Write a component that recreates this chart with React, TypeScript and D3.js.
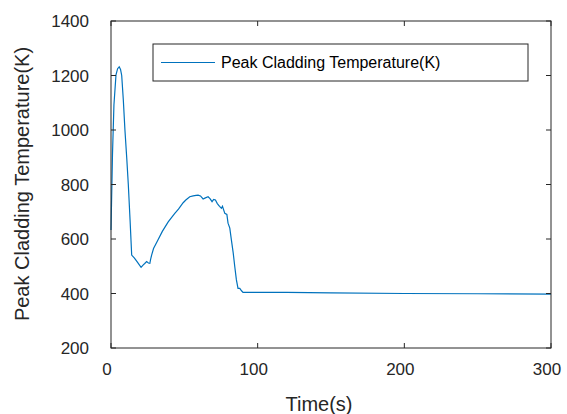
import React from "react";
import * as d3 from "d3";

// time (s) and peak cladding temperature (K)
const timeS = [
  0, 1, 2, 3.4, 4.5, 5.6, 6.5, 7.3, 8.4, 9.5, 10.7, 11.8, 13, 14.1,
  16, 18, 20.5, 22, 23, 24.3, 25.5, 26.5, 27, 27.7, 29, 32, 35, 39, 43.5,
  46, 49.2, 51, 53.7, 56, 58, 59.4, 61, 62.8, 64, 66.2, 67.5, 68.9, 70,
  71.2, 72.5, 74, 75.3, 76, 77.6, 79, 79.8, 81, 82.1, 83.3, 84.4, 85.5,
  86.6, 87.8, 89, 90, 95, 100, 120, 150, 200, 250, 300,
];
const tempK = [
  633, 908, 1092, 1202, 1225, 1232, 1222, 1200, 1110, 1000, 900, 800, 670, 541,
  530, 515, 496, 505, 510, 517, 512, 511, 525, 541, 565, 596, 628, 663, 694,
  710, 733, 743, 755, 758, 760, 761, 758, 747, 750, 755, 748, 737, 745,
  743, 730, 720, 713, 720, 694, 690, 658, 640, 596, 550, 498, 450,
  419, 419, 410, 404, 404, 404, 404, 402, 400, 399, 398,
];
const xTicks = [0, 100, 200, 300];
const yTicks = [200, 400, 600, 800, 1000, 1200, 1400];
const seriesName = "Peak Cladding Temperature(K)";
const xTitle = "Time(s)";
const yTitle = "Peak Cladding Temperature(K)";

const W = 567;
const H = 414;
const left = 111, right = 551, top = 21, bottom = 348;
const axisColor = "#262626";
const lineColor = "#0072BD";
const font = "Arial, 'Liberation Sans', Helvetica, sans-serif";

export default function App() {
  const x = d3.scaleLinear().domain([0, 300]).range([left, right]);
  const y = d3.scaleLinear().domain([200, 1400]).range([bottom, top]);
  const pts: [number, number][] = timeS.map((t, i) => [t, tempK[i]]);
  const line = d3
    .line<[number, number]>()
    .x(d => x(d[0]))
    .y(d => y(d[1]));
  const tick = 5;

  return (
    <svg
      width={W}
      height={H}
      style={{ position: "absolute", left: 0, top: 0, background: "#fff" }}
      fontFamily={font}
    >
      <rect x={0} y={0} width={W} height={H} fill="#fff" />
      <path d={line(pts) || ""} fill="none" stroke={lineColor} strokeWidth={1.2} />

      {/* box */}
      <rect
        x={left}
        y={top}
        width={right - left}
        height={bottom - top}
        fill="none"
        stroke={axisColor}
        strokeWidth={1}
      />
      {xTicks.map(t => (
        <g key={"x" + t}>
          <line x1={x(t)} x2={x(t)} y1={bottom} y2={bottom - tick} stroke={axisColor} />
          <line x1={x(t)} x2={x(t)} y1={top} y2={top + tick} stroke={axisColor} />
          <text x={x(t) - 4} y={375} textAnchor="middle" fontSize={17} fill={axisColor}>
            {t}
          </text>
        </g>
      ))}
      {yTicks.map(t => (
        <g key={"y" + t}>
          <line x1={left} x2={left + tick} y1={y(t)} y2={y(t)} stroke={axisColor} />
          <line x1={right} x2={right - tick} y1={y(t)} y2={y(t)} stroke={axisColor} />
          <text x={89} y={y(t) + 6} textAnchor="end" fontSize={17} fill={axisColor}>
            {t}
          </text>
        </g>
      ))}

      <text x={319} y={411} textAnchor="middle" fontSize={20} fill={axisColor}>
        {xTitle}
      </text>
      <text
        transform={`translate(29, 184) rotate(-90)`}
        textAnchor="middle"
        fontSize={20}
        fill={axisColor}
      >
        {yTitle}
      </text>

      {/* legend */}
      <rect x={153} y={44} width={375} height={37} fill="#fff" stroke={axisColor} strokeWidth={1} />
      <line x1={161} x2={215} y1={62.5} y2={62.5} stroke={lineColor} strokeWidth={1.2} />
      <text x={221} y={68} fontSize={16} fill="#000">
        {seriesName}
      </text>
    </svg>
  );
}
